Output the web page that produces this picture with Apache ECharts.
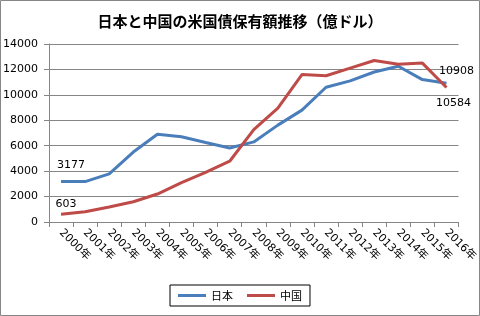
<!DOCTYPE html>
<html>
<head>
<meta charset="utf-8">
<title>米国債保有額推移</title>
<script src="https://cdn.jsdelivr.net/npm/echarts@6/dist/echarts.min.js"></script>
<style>
  body { margin: 0; }
  #chart { width: 480px; height: 316px; }
</style>
</head>
<body>
<div id="chart"></div>
<script>
// データ（億ドル）
let years = ['2000年', '2001年', '2002年', '2003年', '2004年', '2005年', '2006年', '2007年', '2008年',
    '2009年', '2010年', '2011年', '2012年', '2013年', '2014年', '2015年', '2016年'];
let japan = [3177, 3180, 3780, 5500, 6900, 6700, 6250, 5820, 6300, 7620, 8800, 10600, 11100, 11800, 12250, 11200, 10908];
let china = [603, 800, 1180, 1590, 2200, 3100, 3900, 4780, 7270, 8950, 11600, 11500, 12100, 12700, 12400, 12500, 10584];

let fontNum = 'DejaVu Sans, Noto Sans CJK JP, sans-serif';

function withLabels(arr, first, last) {
    return arr.map(function (v, i) {
        if (i === 0) return { value: v, label: first };
        if (i === arr.length - 1) return { value: v, label: last };
        return v;
    });
}

let chart = echarts.init(document.getElementById('chart'));
chart.setOption({
    animation: false,
    title: {
        text: '日本と中国の米国債保有額推移（億ドル）',
        left: 'center',
        top: 9,
        textStyle: { fontSize: 15, fontWeight: 'bold', color: '#000', fontFamily: 'Noto Sans CJK JP' }
    },
    graphic: [{
        type: 'rect',
        shape: { x: 0.5, y: 0.5, width: 479, height: 315 },
        style: { fill: 'none', stroke: '#868686', lineWidth: 1 },
        z: -1
    }],
    grid: { left: 48, right: 20, top: 44, bottom: 94, containLabel: false },
    legend: {
        bottom: 10,
        left: 'center',
        itemWidth: 28,
        itemHeight: 3,
        itemGap: 14,
        padding: [5, 8],
        borderColor: '#000',
        borderWidth: 1,
        icon: 'rect',
        textStyle: { fontSize: 11, color: '#000', fontFamily: 'Noto Sans CJK JP' },
        data: ['日本', '中国']
    },
    xAxis: {
        type: 'category',
        data: years,
        boundaryGap: true,
        axisLine: { lineStyle: { color: '#868686' } },
        axisTick: { show: true, interval: 0, lineStyle: { color: '#868686' } },
        axisLabel: { interval: 0, rotate: -45, fontSize: 11, color: '#000', fontFamily: fontNum, margin: 9 }
    },
    yAxis: {
        type: 'value',
        min: 0,
        max: 14000,
        interval: 2000,
        axisLine: { show: true, lineStyle: { color: '#868686' } },
        axisTick: { show: true, length: 5, lineStyle: { color: '#868686' } },
        splitLine: { lineStyle: { color: '#868686' } },
        axisLabel: {
            fontSize: 11, color: '#000', fontFamily: fontNum, margin: 11,
            formatter: function (v) { return String(v); }
        }
    },
    series: [{
        name: '日本',
        type: 'line',
        symbol: 'circle',
        symbolSize: 0,
        showAllSymbol: true,
        lineStyle: { width: 3, color: '#4a7ebb' },
        itemStyle: { color: '#4a7ebb' },
        data: withLabels(japan,
            { show: true, position: 'top', distance: 11, offset: [10, 0], color: '#000', fontSize: 11, fontFamily: fontNum },
            { show: true, position: 'top', distance: 7, offset: [10, 0], color: '#000', fontSize: 11, fontFamily: fontNum })
    }, {
        name: '中国',
        type: 'line',
        symbol: 'circle',
        symbolSize: 0,
        showAllSymbol: true,
        lineStyle: { width: 3, color: '#be4b48' },
        itemStyle: { color: '#be4b48' },
        data: withLabels(china,
            { show: true, position: 'top', distance: 5, offset: [5, 0], color: '#000', fontSize: 11, fontFamily: fontNum },
            { show: true, position: 'bottom', distance: 10, offset: [7, 0], color: '#000', fontSize: 11, fontFamily: fontNum })
    }]
});
</script>
</body>
</html>
